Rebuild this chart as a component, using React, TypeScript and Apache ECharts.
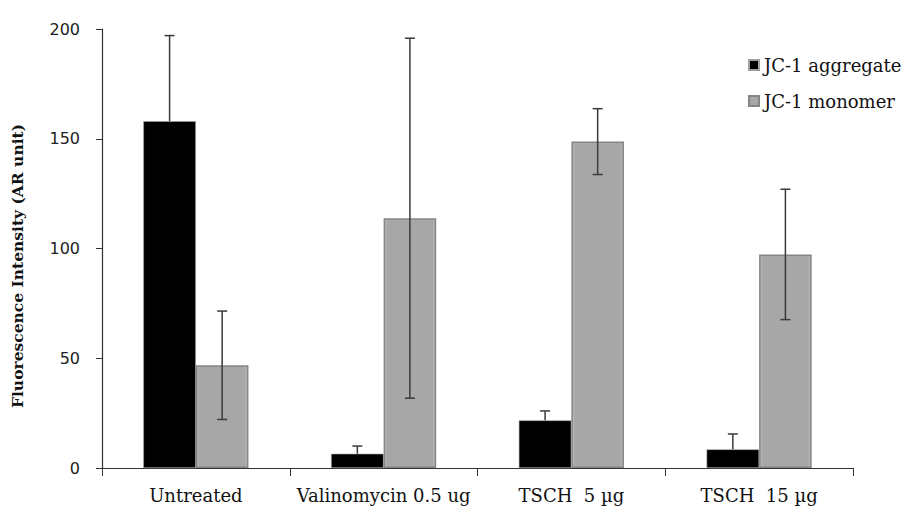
import React, { useEffect, useRef } from "react";
import * as echarts from "echarts";

const categories = ["Untreated", "Valinomycin 0.5 ug", "TSCH  5 µg", "TSCH  15 µg"];
const aggregateMean = [158, 6.5, 21.7, 8.5];
const aggregateErr = [39, 3.5, 4.3, 7];
const monomerMean = [46.8, 113.8, 148.7, 97.3];
const monomerErr = [24.7, 82, 15, 29.7];
const yTicks = [0, 50, 100, 150, 200];
const yTitle = "Fluorescence Intensity (AR unit)";

const SERIF = "'DejaVu Serif', 'Liberation Serif', serif";
const SANS = "'DejaVu Sans', Verdana, sans-serif";

function errData(mean: number[], err: number[], upperOnly: boolean) {
  return mean.map((m, i) => [i, upperOnly ? m : m - err[i], m + err[i]]);
}

function makeErrRender(sign: number, lowerCap: boolean) {
  return (params: any, api: any) => {
    const x = api.value(0);
    const lo = api.coord([x, api.value(1)]);
    const hi = api.coord([x, api.value(2)]);
    const band = api.size([1, 0])[0];
    const cx = lo[0] + (sign * band * 0.28) / 2;
    const cap = 5;
    const style = { stroke: "#3a3a3a", lineWidth: 1.5 };
    const children: any[] = [
      { type: "line", shape: { x1: cx, y1: lo[1], x2: cx, y2: hi[1] }, style },
      { type: "line", shape: { x1: cx - cap, y1: hi[1], x2: cx + cap, y2: hi[1] }, style },
    ];
    if (lowerCap) {
      children.push({ type: "line", shape: { x1: cx - cap, y1: lo[1], x2: cx + cap, y2: lo[1] }, style });
    }
    return { type: "group", children };
  };
}

export default function App() {
  const ref = useRef<HTMLDivElement>(null);
  useEffect(() => {
    if (!ref.current) return;
    const chart = echarts.init(ref.current, null, { renderer: "svg" });
    const grayFill = {
      type: "linear",
      x: 0,
      y: 0,
      x2: 1,
      y2: 0,
      colorStops: [
        { offset: 0, color: "#bcbcbc" },
        { offset: 0.06, color: "#a7a7a7" },
        { offset: 0.94, color: "#a7a7a7" },
        { offset: 1, color: "#bcbcbc" },
      ],
    };
    chart.setOption({
      animation: false,
      backgroundColor: "#ffffff",
      grid: { left: 102, right: 53, top: 29, bottom: 39, containLabel: false },
      legend: {
        orient: "vertical",
        left: 743,
        top: 51,
        itemWidth: 10,
        itemHeight: 10,
        itemGap: 18,
        icon: "rect",
        textStyle: { fontFamily: SERIF, fontSize: 18, color: "#111" },
        data: ["JC-1 aggregate", "JC-1 monomer"],
      },
      graphic: [
        {
          type: "text",
          x: 17,
          y: 266,
          rotation: Math.PI / 2,
          style: {
            text: yTitle,
            fontFamily: SERIF,
            fontSize: 15.5,
            fontWeight: "bold",
            fill: "#111",
            align: "center",
            verticalAlign: "middle",
          },
        },
      ],
      xAxis: {
        type: "category",
        data: categories,
        axisLine: { lineStyle: { color: "#333", width: 1.2 } },
        axisTick: { show: true, length: 8, lineStyle: { color: "#333" } },
        axisLabel: { fontFamily: SERIF, fontSize: 18, color: "#111", margin: 18, interval: 0 },
      },
      yAxis: {
        type: "value",
        min: 0,
        max: 200,
        interval: 50,
        axisLine: { show: true, lineStyle: { color: "#333", width: 1.2 } },
        axisTick: { show: true, length: 6, lineStyle: { color: "#333" } },
        axisLabel: {
          fontFamily: SANS,
          fontSize: 16,
          color: "#222",
          margin: 22,
          customValues: yTicks,
        },
        splitLine: { show: false },
      },
      series: [
        {
          name: "JC-1 aggregate",
          type: "bar",
          data: aggregateMean,
          barGap: "0%",
          barCategoryGap: "44%",
          itemStyle: { color: "#000000", borderColor: "#a0a0a0", borderWidth: 0.6 },
        },
        {
          name: "JC-1 monomer",
          type: "bar",
          data: monomerMean,
          barGap: "0%",
          barCategoryGap: "44%",
          itemStyle: { color: grayFill, borderColor: "#858585", borderWidth: 1.5 },
        },
        {
          type: "custom",
          name: "errAgg",
          renderItem: makeErrRender(-1, false),
          data: errData(aggregateMean, aggregateErr, true),
          encode: { x: 0, y: [1, 2] },
          z: 10,
          silent: true,
        },
        {
          type: "custom",
          name: "errMono",
          renderItem: makeErrRender(1, true),
          data: errData(monomerMean, monomerErr, false),
          encode: { x: 0, y: [1, 2] },
          z: 10,
          silent: true,
        },
      ],
    });
    return () => chart.dispose();
  }, []);
  return (
    <div
      ref={ref}
      style={{ position: "fixed", left: 0, top: 0, width: 906, height: 507, background: "#fff" }}
    />
  );
}
